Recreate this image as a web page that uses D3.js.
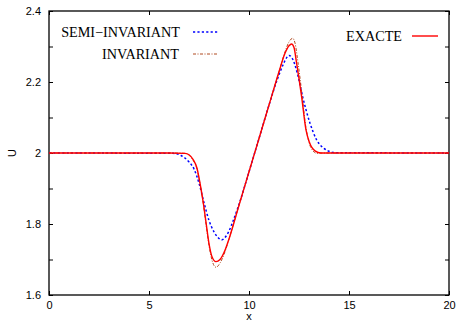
<!DOCTYPE html>
<html>
<head>
<meta charset="utf-8">
<script src="https://cdn.jsdelivr.net/npm/d3@7"></script>
<style>
  html, body { margin: 0; padding: 0; background: #fff; }
  svg { display: block; }
</style>
</head>
<body>
<div id="chart"></div>
<script>
// values
const xExact = [0, 6.0, 6.8, 7.0, 7.2, 7.4, 7.55, 7.7, 7.85, 8.0, 8.15, 8.35, 8.55, 8.8, 9.0, 9.5, 10, 10.5, 11, 11.5, 11.8, 12.0, 12.13, 12.25, 12.38, 12.63, 12.85, 13.02, 13.3, 13.6, 20];
const uExact = [2.0, 2.0, 1.999, 1.995, 1.982, 1.957, 1.915, 1.865, 1.805, 1.745, 1.708, 1.694, 1.70, 1.726, 1.758, 1.853, 1.947, 2.041, 2.135, 2.229, 2.281, 2.302, 2.307, 2.297, 2.253, 2.159, 2.065, 2.030, 2.006, 2.0, 2.0];

const xInv = [0, 6.0, 6.8, 7.0, 7.2, 7.4, 7.55, 7.7, 7.85, 8.0, 8.15, 8.35, 8.55, 8.8, 9.0, 9.5, 10, 10.5, 11, 11.5, 11.8, 12.0, 12.18, 12.3, 12.45, 12.65, 12.85, 13.0, 13.2, 13.4, 13.7, 20];
const uInv = [2.0, 2.0, 1.999, 1.994, 1.98, 1.955, 1.913, 1.862, 1.80, 1.74, 1.698, 1.678, 1.69, 1.722, 1.758, 1.853, 1.947, 2.041, 2.135, 2.229, 2.285, 2.313, 2.323, 2.31, 2.255, 2.165, 2.07, 2.03, 2.006, 1.999, 2.0, 2.0];

const xSemi = [0, 6.2, 6.6, 7.0, 7.25, 7.5, 7.75, 8.0, 8.25, 8.45, 8.63, 8.8, 9.0, 9.2, 9.5, 10, 10.5, 11, 11.4, 11.7, 11.9, 12.0, 12.15, 12.42, 12.68, 13.05, 13.38, 13.7, 13.95, 14.3, 20];
const uSemi = [2.0, 1.999, 1.993, 1.975, 1.955, 1.915, 1.86, 1.81, 1.778, 1.762, 1.755, 1.762, 1.78, 1.808, 1.855, 1.947, 2.041, 2.135, 2.205, 2.248, 2.27, 2.275, 2.268, 2.224, 2.159, 2.084, 2.037, 2.015, 2.006, 2.001, 2.0];

const xTicks = [0, 5, 10, 15, 20];
const yTicks = [1.6, 1.7, 1.8, 1.9, 2.0, 2.1, 2.2, 2.3, 2.4];
const yLabels = [1.6, 1.8, 2.0, 2.2, 2.4];

const W = 456, H = 320;
const margin = { top: 11, right: 7, bottom: 25, left: 49 };
const w = W - margin.left - margin.right;
const h = H - margin.top - margin.bottom;

const svg = d3.select('#chart').append('svg')
  .attr('width', W).attr('height', H);
const g = svg.append('g')
  .attr('transform', `translate(${margin.left},${margin.top})`);

const x = d3.scaleLinear().domain([0, 20]).range([0, w]);
const y = d3.scaleLinear().domain([1.6, 2.4]).range([h, 0]);

const fmtY = d => (yLabels.some(v => Math.abs(v - d) < 1e-9) ? d3.format('~g')(d) : '');

// axes with inward ticks on all four sides
function styleAxis(sel) {
  sel.select('.domain').remove();
  sel.selectAll('.tick line').attr('stroke', '#000').attr('stroke-width', 1);
  sel.selectAll('.tick text')
    .attr('font-family', '"Liberation Sans", Arial, sans-serif')
    .attr('font-size', '11px').attr('fill', '#000');
}

g.append('g').attr('transform', `translate(0,${h})`)
  .call(d3.axisBottom(x).tickValues(xTicks).tickSizeInner(-4).tickSizeOuter(0).tickPadding(6))
  .call(styleAxis);
g.append('g')
  .call(d3.axisTop(x).tickValues(xTicks).tickSizeInner(-4).tickSizeOuter(0).tickFormat(''))
  .call(styleAxis);
g.append('g')
  .call(d3.axisLeft(y).tickValues(yTicks).tickSizeInner(-4).tickSizeOuter(0).tickPadding(8).tickFormat(fmtY))
  .call(styleAxis);
g.append('g').attr('transform', `translate(${w},0)`)
  .call(d3.axisRight(y).tickValues(yTicks).tickSizeInner(-4).tickSizeOuter(0).tickFormat(''))
  .call(styleAxis);

// frame
g.append('rect')
  .attr('width', w).attr('height', h)
  .attr('fill', 'none').attr('stroke', '#000').attr('stroke-width', 1.3);

// axis titles
svg.append('text')
  .attr('x', margin.left + x(10)).attr('y', 319.5)
  .attr('text-anchor', 'middle')
  .attr('font-family', '"Liberation Sans", Arial, sans-serif').attr('font-size', '11px')
  .text('x');
svg.append('text')
  .attr('transform', `translate(16,${margin.top + y(2)}) rotate(-90)`)
  .attr('text-anchor', 'middle')
  .attr('font-family', '"Liberation Sans", Arial, sans-serif').attr('font-size', '11px')
  .text('U');

const series = [
  { name: 'SEMI\u2212INVARIANT', xs: xSemi, us: uSemi, color: '#0000ff', width: 1.5, dash: '2.2,2.2' },
  { name: 'INVARIANT', xs: xInv, us: uInv, color: '#b04a20', width: 1, dash: '3,1.5,1,1.5' },
  { name: 'EXACTE', xs: xExact, us: uExact, color: '#ff0000', width: 1.4, dash: null }
];

const line = d3.line()
  .x(d => x(d[0]))
  .y(d => y(d[1]))
  .curve(d3.curveMonotoneX);

g.append('clipPath').attr('id', 'clip')
  .append('rect').attr('width', w).attr('height', h);

series.forEach(s => {
  g.append('path')
    .datum(s.xs.map((v, i) => [v, s.us[i]]))
    .attr('clip-path', 'url(#clip)')
    .attr('fill', 'none')
    .attr('stroke', s.color)
    .attr('stroke-width', s.width)
    .attr('stroke-dasharray', s.dash)
    .attr('d', line);
});

// legend
const legendPos = [
  { tx: 180, ty: 32, lx0: 193, lx1: 218 },
  { tx: 179, ty: 54, lx0: 193, lx1: 218 },
  { tx: 402, ty: 36, lx0: 412, lx1: 438 }
];
series.forEach((s, i) => {
  const p = legendPos[i];
  svg.append('text')
    .attr('x', p.tx).attr('y', p.ty).attr('dy', '0.35em')
    .attr('text-anchor', 'end')
    .attr('font-family', '"Liberation Serif", "Times New Roman", serif')
    .attr('font-size', '14.2px').attr('fill', '#000')
    .text(s.name);
  svg.append('line')
    .attr('x1', p.lx0).attr('x2', p.lx1).attr('y1', p.ty).attr('y2', p.ty)
    .attr('stroke', s.color).attr('stroke-width', s.width)
    .attr('stroke-dasharray', s.dash);
});
</script>
</body>
</html>
